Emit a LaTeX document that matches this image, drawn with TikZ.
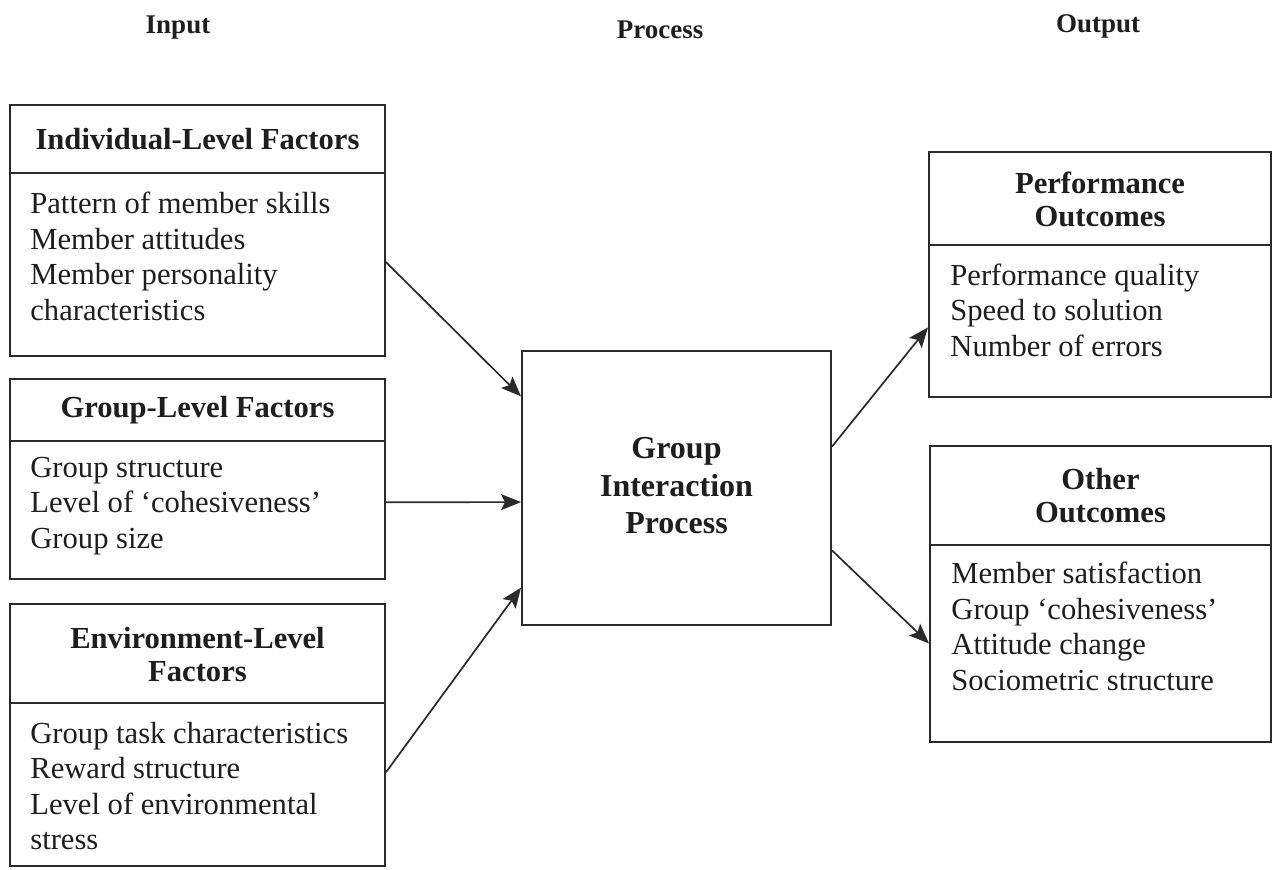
\documentclass[tikz,border=0pt]{standalone}
\usepackage{fontspec}
\setmainfont{Liberation Serif}
\usetikzlibrary{arrows.meta,calc}
\definecolor{ink}{HTML}{1E1E1E}
\definecolor{rule}{HTML}{2A2A2A}
\begin{document}
\begin{tikzpicture}[x=0.5pt,y=-0.5pt,
  frame/.style={draw=rule, line width=1pt, rectangle, inner sep=0pt},
  head/.style={font=\fontsize{15.3}{16.5}\selectfont\bfseries, text=ink, align=center, inner sep=0pt},
  body/.style={font=\fontsize{15.3}{17.8}\selectfont, text=ink, align=left, anchor=west, inner sep=0pt},
  core/.style={font=\fontsize{16}{18.75}\selectfont\bfseries, text=ink, align=center, inner sep=0pt},
  stage/.style={font=\fontsize{13.5}{16}\selectfont\bfseries, text=ink, inner sep=0pt},
  flow/.style={draw=rule, line width=0.85pt, -{Stealth[length=10pt,width=8pt,inset=2pt]}},
  divider/.style={draw=rule, line width=1pt}]
\useasboundingbox[fill=white] (0,0) rectangle (1277,869);

% column labels
\node[stage] (lin)  at (178,28)  {Input};
\node[stage] (lpr)  at (660,30)  {Process};
\node[stage] (lout) at (1098,26) {Output};

% frames
\node[frame, minimum width=187.5pt, minimum height=125.5pt] (ind)  at (197.5,230.5) {};
\node[frame, minimum width=187.5pt, minimum height=100pt]   (grp)  at (197.5,479)   {};
\node[frame, minimum width=187.5pt, minimum height=131pt]   (env)  at (197.5,735)   {};
\node[frame, minimum width=154.5pt, minimum height=137pt]   (proc) at (676.5,488)   {};
\node[frame, minimum width=171pt,   minimum height=122.5pt] (perf) at (1100,274.5)  {};
\node[frame, minimum width=170.5pt, minimum height=148pt]   (oth)  at (1100.5,594)  {};

% header rules
\draw[divider] (ind.west |- 0,173)  -- (ind.east |- 0,173);
\draw[divider] (grp.west |- 0,441)  -- (grp.east |- 0,441);
\draw[divider] (env.west |- 0,703)  -- (env.east |- 0,703);
\draw[divider] (perf.west |- 0,245) -- (perf.east |- 0,245);
\draw[divider] (oth.west |- 0,545)  -- (oth.east |- 0,545);

% headings
\node[head] (indh)  at (197.5,139)   {Individual-Level Factors};
\node[head] (grph)  at (197.5,410)   {Group-Level Factors};
\node[head] (envh)  at (197.5,655)   {Environment-Level\\Factors};
\node[head] (perfh) at (1100,199)    {Performance\\Outcomes};
\node[head] (othh)  at (1100.5,496)  {Other\\Outcomes};

% item lists
\node[body] (indb)  at (30,256.5) {Pattern of member skills\\Member attitudes\\Member personality\\characteristics};
\node[body] (grpb)  at (30,506)   {Group structure\\Level of ‘cohesiveness’\\Group size};
\node[body] (envb)  at (30,786)   {Group task characteristics\\Reward structure\\Level of environmental\\stress};
\node[body] (perfb) at (950,310)  {Performance quality\\Speed to solution\\Number of errors};
\node[body] (othb)  at (951,626.5) {Member satisfaction\\Group ‘cohesiveness’\\Attitude change\\Sociometric structure};

% central process
\node[core] (proct) at (676.5,486) {Group\\Interaction\\Process};

% flows
\draw[flow] ($(ind.north east)!0.625!(ind.south east)$) -- ($(proc.north west)!0.168!(proc.south west)$);
\draw[flow] ($(grp.north east)!0.615!(grp.south east)$) -- ($(proc.north west)!0.551!(proc.south west)$);
\draw[flow] ($(env.north east)!0.641!(env.south east)$) -- ($(proc.north west)!0.861!(proc.south west)$);
\draw[flow] ($(proc.north east)!0.35!(proc.south east)$) -- ($(perf.north west)!0.714!(perf.south west)$);
\draw[flow] ($(proc.north east)!0.726!(proc.south east)$) -- ($(oth.north west)!0.666!(oth.south west)$);
\end{tikzpicture}
\end{document}
